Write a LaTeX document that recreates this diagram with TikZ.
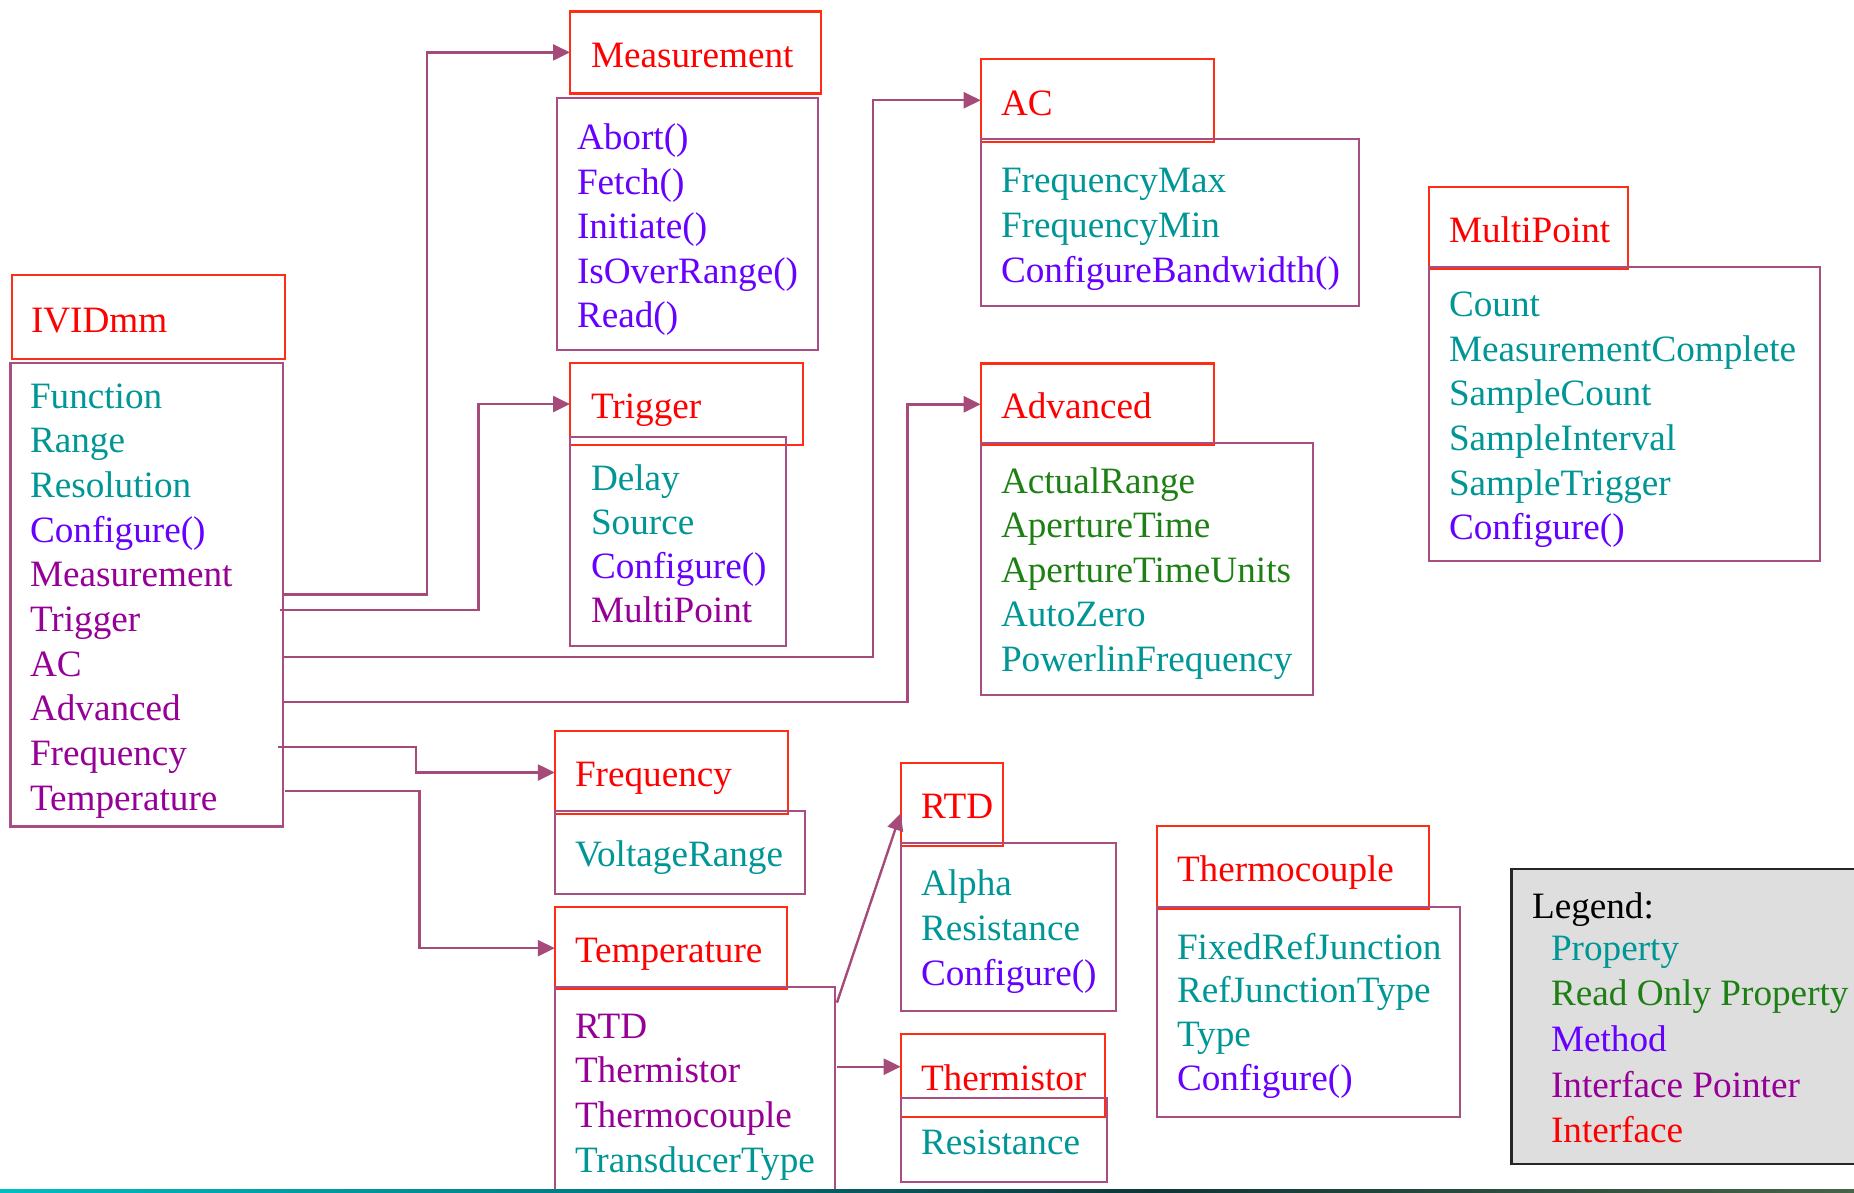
\documentclass[tikz,border=0pt]{standalone}
\usepackage{fontspec}
\setmainfont{Liberation Serif}
\usetikzlibrary{fit,calc,arrows.meta}
\definecolor{ifcRed}{RGB}{255,0,0}
\definecolor{ifcEdge}{RGB}{255,45,20}
\definecolor{bodyEdge}{RGB}{168,78,128}
\definecolor{linkCol}{RGB}{166,74,122}
\definecolor{propCol}{RGB}{0,150,150}
\definecolor{roCol}{RGB}{30,128,20}
\definecolor{methCol}{RGB}{102,0,255}
\definecolor{ptrCol}{RGB}{150,0,150}
\definecolor{legFill}{RGB}{222,222,222}
\definecolor{stripA}{RGB}{0,190,200}
\definecolor{stripB}{RGB}{0,110,120}
\definecolor{stripC}{RGB}{12,55,55}
\definecolor{stripD}{RGB}{70,100,70}
\begin{document}
\begin{tikzpicture}[x=1pt,y=-1pt,
  font=\fontsize{37.2}{44.7}\selectfont,
  hdr/.style={draw=ifcEdge, line width=2.2pt, inner sep=0pt, outer sep=0pt},
  bodybox/.style={draw=bodyEdge, line width=2.2pt, inner sep=0pt, outer sep=0pt},
  txt/.style={inner sep=0pt, outer sep=0pt, anchor=base west},
  ifc/.style={txt, text=ifcRed},
  prop/.style={txt, text=propCol},
  ro/.style={txt, text=roCol},
  meth/.style={txt, text=methCol},
  ptr/.style={txt, text=ptrCol},
  conn/.style={draw=linkCol, line width=2.4pt, -{Triangle[length=17pt,width=16pt]}}]

\useasboundingbox (0,0) rectangle (1854,1192);

% legend panel
\node[fit={(1511.7,869) (1864,1164)}, draw=black!85, fill=legFill, line width=2.6pt, inner sep=0pt] (lg) {};
\node[txt] (lgT) at (1532,918.3) {Legend:};
\node[prop] (lgProp) at (1551,960) {Property};
\node[ro] (lgRO) at (1551,1005.7) {Read Only Property};
\node[meth] (lgMeth) at (1551,1051.4) {Method};
\node[ptr] (lgPtr) at (1551,1097.1) {Interface Pointer};
\node[ifc] (lgIfc) at (1551,1142.8) {Interface};

% IVIDmm
\node[hdr, fit={(12,275) (285,359)}] (ivH) {};
\node[bodybox, fit={(10.5,363) (283,826.5)}] (ivB) {};
\node[ifc] (ivT) at (31,332) {IVIDmm};
\node[prop] (ivFunction) at (30,408) {Function};
\node[prop] (ivRange) at (30,452.5) {Range};
\node[prop] (ivResolution) at (30,497) {Resolution};
\node[meth] (ivConfigure) at (30,542) {Configure()};
\node[ptr] (ivMeasurement) at (30,586.7) {Measurement};
\node[ptr] (ivTrigger) at (30,631.5) {Trigger};
\node[ptr] (ivAC) at (30,676) {AC};
\node[ptr] (ivAdvanced) at (30,720.7) {Advanced};
\node[ptr] (ivFrequency) at (30,765.5) {Frequency};
\node[ptr] (ivTemperature) at (30,810) {Temperature};

% Measurement
\node[hdr, fit={(570,11.4) (820.7,93.4)}] (mH) {};
\node[bodybox, fit={(557,98) (818,349.7)}] (mB) {};
\node[ifc] (mT) at (591,67.3) {Measurement};
\node[meth] (mAbort) at (577,149.5) {Abort()};
\node[meth] (mFetch) at (577,194) {Fetch()};
\node[meth] (mInit) at (577,238.5) {Initiate()};
\node[meth] (mOver) at (577,283) {IsOverRange()};
\node[meth] (mRead) at (577,327.5) {Read()};

% Trigger
\node[hdr, fit={(570,362.8) (803.3,445.3)}] (tH) {};
\node[bodybox, fit={(570,436.9) (785.7,646)}] (tB) {};
\node[ifc] (tT) at (591,418.8) {Trigger};
\node[prop] (tDelay) at (591,490) {Delay};
\node[prop] (tSource) at (591,534) {Source};
\node[meth] (tConf) at (591,578) {Configure()};
\node[ptr] (tMP) at (591,622) {MultiPoint};

% AC
\node[hdr, fit={(980.7,58.8) (1214,141.7)}] (acH) {};
\node[bodybox, fit={(980.7,139.1) (1359.3,306.2)}] (acB) {};
\node[ifc] (acT) at (1001,115.2) {AC};
\node[prop] (acFmax) at (1001,192.6) {FrequencyMax};
\node[prop] (acFmin) at (1001,237.3) {FrequencyMin};
\node[meth] (acConf) at (1001,282) {ConfigureBandwidth()};

% Advanced
\node[hdr, fit={(980.7,363.5) (1214,445.1)}] (adH) {};
\node[bodybox, fit={(980.7,442.6) (1312.7,694.7)}] (adB) {};
\node[ifc] (adT) at (1001,418.2) {Advanced};
\node[ro] (adRange) at (1001,493) {ActualRange};
\node[ro] (adAp) at (1001,537.6) {ApertureTime};
\node[ro] (adApU) at (1001,582.2) {ApertureTimeUnits};
\node[prop] (adAZ) at (1001,626.8) {AutoZero};
\node[prop] (adPL) at (1001,671.4) {PowerlinFrequency};

% MultiPoint
\node[hdr, fit={(1428.7,186.7) (1628.3,269.3)}] (mpH) {};
\node[bodybox, fit={(1428.7,267) (1820,561)}] (mpB) {};
\node[ifc] (mpT) at (1449,242.7) {MultiPoint};
\node[prop] (mpCount) at (1449,316.7) {Count};
\node[prop] (mpMC) at (1449,361.3) {MeasurementComplete};
\node[prop] (mpSC) at (1449,405.9) {SampleCount};
\node[prop] (mpSI) at (1449,450.5) {SampleInterval};
\node[prop] (mpST) at (1449,495.1) {SampleTrigger};
\node[meth] (mpConf) at (1449,539.7) {Configure()};

% Frequency
\node[hdr, fit={(554.8,731) (787.9,814)}] (fH) {};
\node[bodybox, fit={(554.8,810.7) (805.3,893.7)}] (fB) {};
\node[ifc] (fT) at (575,786) {Frequency};
\node[prop] (fVR) at (575,866) {VoltageRange};

% Temperature
\node[hdr, fit={(554.8,907) (787.1,989.3)}] (tpH) {};
\node[bodybox, fit={(554.8,986.7) (834.9,1200)}] (tpB) {};
\node[ifc] (tpT) at (575,962.3) {Temperature};
\node[ptr] (tpRTD) at (575,1038.3) {RTD};
\node[ptr] (tpTh) at (575,1082.9) {Thermistor};
\node[ptr] (tpTc) at (575,1127.5) {Thermocouple};
\node[prop] (tpTT) at (575,1172.1) {TransducerType};

% RTD
\node[hdr, fit={(900.7,762.7) (1003.2,845.7)}] (rH) {};
\node[bodybox, fit={(900.7,842.7) (1115.7,1010.7)}] (rB) {};
\node[ifc] (rT) at (921,818.3) {RTD};
\node[prop] (rAlpha) at (921,895.7) {Alpha};
\node[prop] (rRes) at (921,940.3) {Resistance};
\node[meth] (rConf) at (921,985) {Configure()};

% Thermistor
\node[hdr, fit={(900.7,1034.3) (1105.3,1117.3)}] (thH) {};
\node[bodybox, fit={(900.7,1098.3) (1107.2,1181.7)}] (thB) {};
\node[ifc] (thT) at (921,1090) {Thermistor};
\node[prop] (thRes) at (921,1154) {Resistance};

% Thermocouple
\node[hdr, fit={(1156.7,825.7) (1429,909.3)}] (tcH) {};
\node[bodybox, fit={(1156.7,906.7) (1460,1116.7)}] (tcB) {};
\node[ifc] (tcT) at (1177,881.7) {Thermocouple};
\node[prop] (tcFixed) at (1177,959) {FixedRefJunction};
\node[prop] (tcRef) at (1177,1002.7) {RefJunctionType};
\node[prop] (tcType) at (1177,1046.4) {Type};
\node[meth] (tcConf) at (1177,1090) {Configure()};

% connector start points on the interface-pointer boxes
\coordinate (sMeas) at ($(ivB.north east)+(0,231.3)$);
\coordinate (sTrig) at ($(ivB.north east)+(-2.6,247)$);
\coordinate (sAC) at ($(ivB.north east)+(0,294)$);
\coordinate (sAdv) at ($(ivB.north east)+(0,338.7)$);
\coordinate (sFreq) at ($(ivB.north east)+(-5.5,383.7)$);
\coordinate (sTemp) at ($(ivB.north east)+(1.6,427.7)$);
\coordinate (sRTD) at ($(tpB.north east)+(2,16)$);
\coordinate (sTherm) at ($(tpB.north east)+(2,80)$);

% connectors
\draw[conn] (sMeas) -| ($(mH.west)+(-143.3,0)$) -- (mH.west);
\draw[conn] (sTrig) -| ($(tH.west)+(-91.7,0)$) -- (tH.west);
\draw[conn] (sAC) -| ($(acH.west)+(-107.7,0)$) -- (acH.west);
\draw[conn] (sAdv) -| ($(adH.west)+(-73.4,0)$) -- (adH.west);
\draw[conn] (sFreq) -| ($(fH.west)+(-138.8,0)$) -- (fH.west);
\draw[conn] (sTemp) -| ($(tpH.west)+(-135.2,0)$) -- (tpH.west);
\draw[conn] (sRTD) -- ($(rH.west)+(0,9)$);
\draw[conn] (sTherm) -- (sTherm -| thH.west);

% thin background band along the lower edge
\shade[left color=stripA, right color=stripB] (0,1189) rectangle (700,1193);
\shade[left color=stripB, right color=stripC] (700,1189) rectangle (1150,1193);
\shade[left color=stripC, right color=stripD] (1150,1189) rectangle (1854,1193);
\end{tikzpicture}
\end{document}
